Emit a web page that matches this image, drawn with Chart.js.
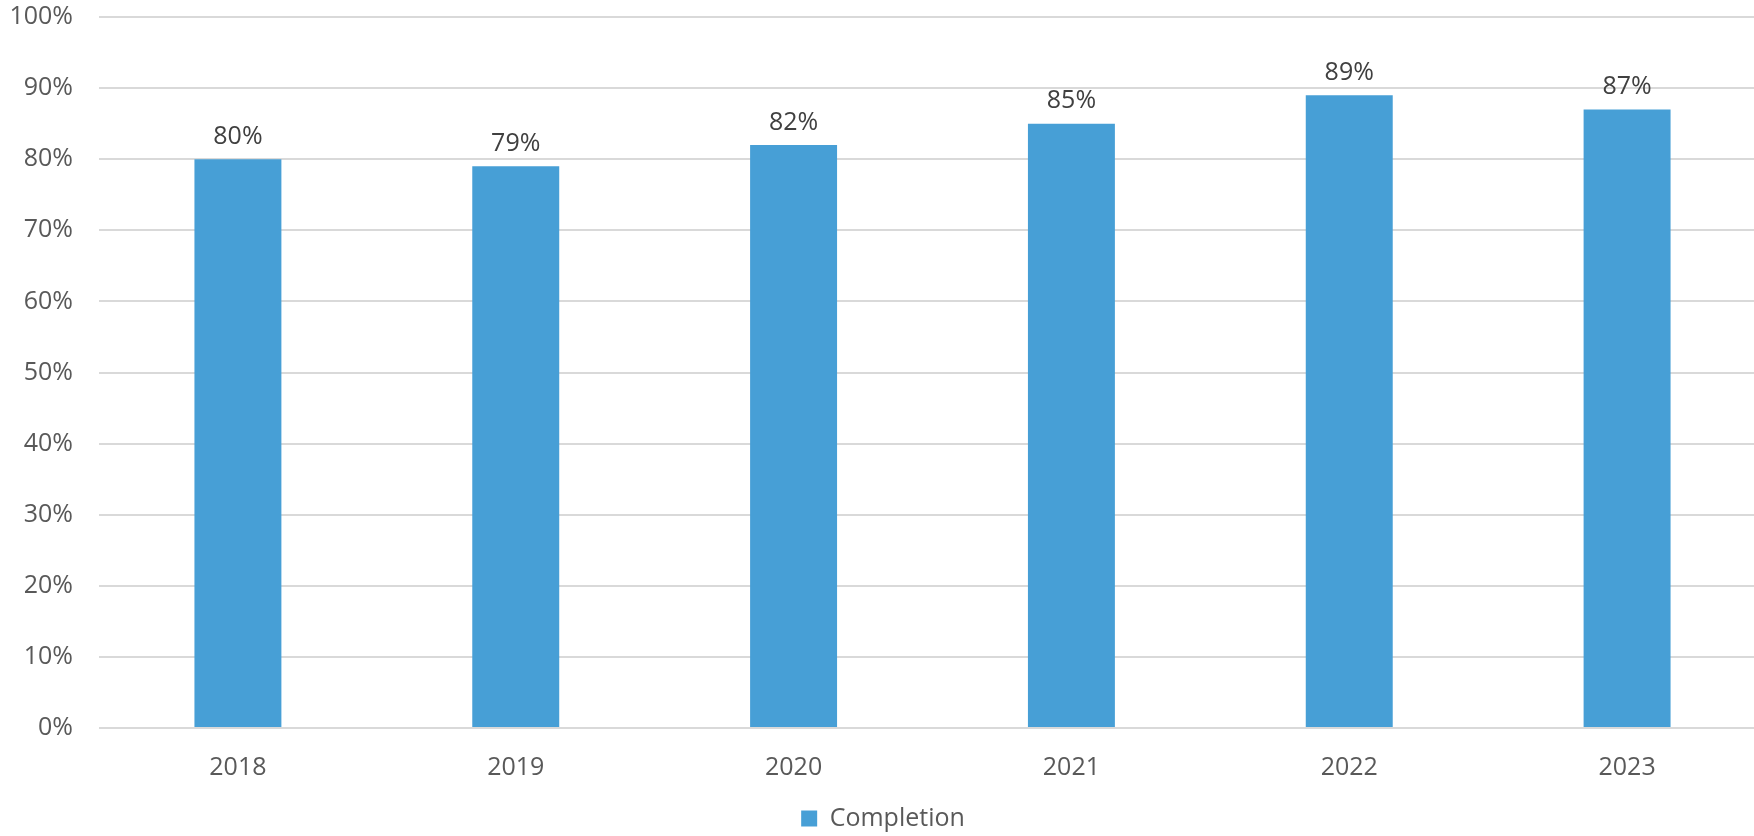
<!DOCTYPE html>
<html lang="en">
<head>
  <meta charset="UTF-8">
  <title>Completion</title>
  <script src="https://cdn.jsdelivr.net/npm/chart.js"></script>
  <style>
    html, body {
      margin: 0;
      padding: 0;
      background: #fff;
      overflow: hidden;
    }
    #chart-container {
      width: 1766px;
      height: 836px;
    }
  </style>
</head>
<body>
  <div id="chart-container">
    <canvas id="completionChart"></canvas>
  </div>

  <script>
    const years = ['2018', '2019', '2020', '2021', '2022', '2023'];
    const completion = [80, 79, 82, 85, 89, 87];
    const seriesName = 'Completion';

    const fontFamily = '"Open Sans", "Noto Sans", sans-serif';

    // values above each bar
    const barLabels = {
      id: 'barLabels',
      afterDatasetsDraw(chart) {
        const ctx = chart.ctx;
        ctx.save();
        ctx.font = '25px ' + fontFamily;
        ctx.fillStyle = '#404040';
        ctx.textAlign = 'center';
        ctx.textBaseline = 'bottom';
        chart.getDatasetMeta(0).data.forEach((bar, i) => {
          ctx.fillText(completion[i] + '%', bar.x, bar.y - 10);
        });
        ctx.restore();
      }
    };

    const ctx = document.getElementById('completionChart').getContext('2d');
    new Chart(ctx, {
      type: 'bar',
      data: {
        labels: years,
        datasets: [{
          label: seriesName,
          data: completion,
          backgroundColor: '#479FD6',
          barPercentage: 0.313,
          categoryPercentage: 1
        }]
      },
      options: {
        responsive: true,
        maintainAspectRatio: false,
        animation: false,
        layout: {
          padding: { top: 17, right: 0, bottom: -5, left: 0 }
        },
        scales: {
          x: {
            afterFit(scale) { scale.height -= 5; },
            grid: { display: false, drawTicks: false },
            border: { display: false },
            ticks: {
              color: '#595959',
              font: { family: fontFamily, size: 25 },
              padding: 25
            }
          },
          y: {
            min: 0,
            max: 100,
            afterFit(scale) {
              scale.width = 99;
              scale.paddingTop = 0;
              scale.paddingBottom = 0;
            },
            grid: { color: '#D9D9D9', lineWidth: 2, drawTicks: false },
            border: { display: false },
            ticks: {
              stepSize: 10,
              color: '#595959',
              font: { family: fontFamily, size: 25 },
              padding: 26,
              callback: v => v + '%'
            }
          }
        },
        plugins: {
          legend: {
            position: 'bottom',
            labels: {
              color: '#595959',
              font: { family: fontFamily, size: 25 },
              boxWidth: 16,
              boxHeight: 16,
              padding: 3
            }
          },
          tooltip: { enabled: false }
        }
      },
      plugins: [barLabels]
    });
  </script>
</body>
</html>
